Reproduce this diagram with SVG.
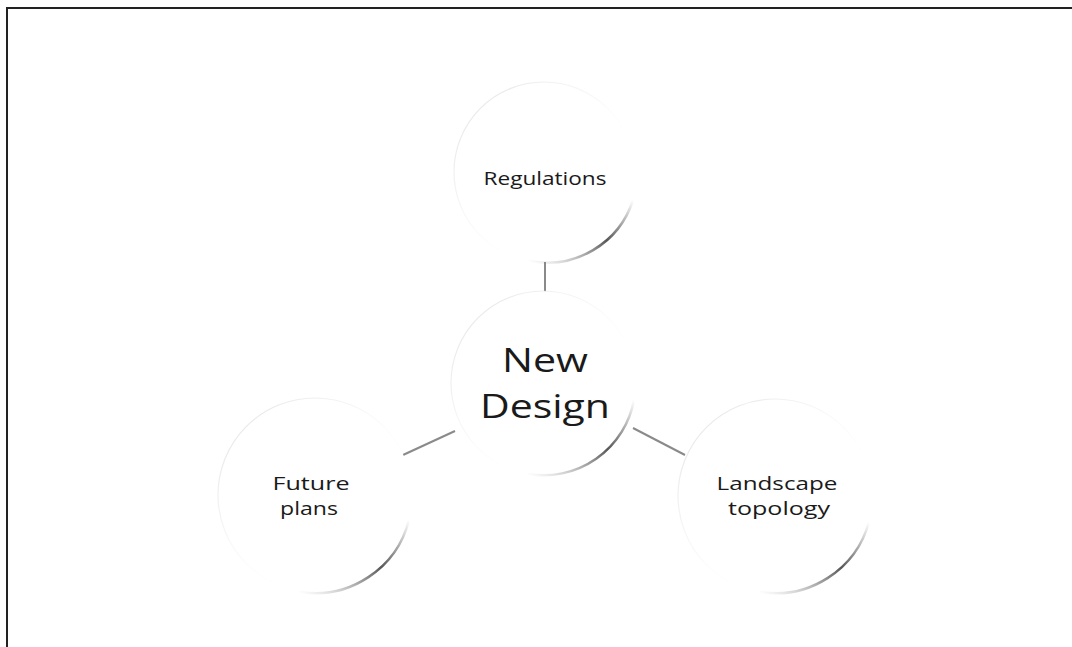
<svg xmlns="http://www.w3.org/2000/svg" width="1072" height="647" viewBox="0 0 1072 647">
<defs>
<linearGradient id="shade" x1="1" y1="0" x2="0" y2="1">
<stop offset="0" stop-color="#555" stop-opacity="0"/>
<stop offset="0.45" stop-color="#444" stop-opacity="0.9"/>
<stop offset="1" stop-color="#888" stop-opacity="0"/>
</linearGradient>
<linearGradient id="rim" x1="0" y1="0" x2="1" y2="1">
<stop offset="0" stop-color="#d0d0d0" stop-opacity="0.7"/>
<stop offset="0.45" stop-color="#ececec" stop-opacity="0.3"/>
<stop offset="0.7" stop-color="#fff" stop-opacity="0"/>
</linearGradient>
</defs>
<style>
.bubble{fill:#fff;stroke:url(#rim);stroke-width:1.2}
.shadow{fill:none;stroke:url(#shade);stroke-width:2.5;stroke-linecap:round}
.lbl{font-family:"Open Sans","Noto Sans",sans-serif;fill:#1a1a1a;text-anchor:middle}
.sm{font-size:19px;font-weight:500}
.big{font-size:32px}
.conn line{stroke:#8a8a8a;stroke-width:2}
</style>
<rect width="1072" height="647" fill="#fff"/>
<path d="M7,647 V8 H1072" fill="none" stroke="#222" stroke-width="2"/>
<g id="connectors" class="conn">
<line x1="545" y1="262" x2="545" y2="303"/>
<line x1="403" y1="455" x2="455" y2="431"/>
<line x1="633" y1="428" x2="685" y2="455"/>
</g>
<g id="node-regulations">
<circle class="bubble" cx="544" cy="172" r="90"/>
<path class="shadow" d="M633,200 A90,90 0 0 1 530,261"/>
<text class="lbl sm" x="545" y="185" textLength="123" lengthAdjust="spacingAndGlyphs">Regulations</text>
</g>
<g id="node-new-design">
<circle class="bubble" cx="543" cy="383" r="92"/>
<path class="shadow" d="M634,400 A92,92 0 0 1 528,474"/>
<text class="lbl big" x="545" y="372" textLength="86" lengthAdjust="spacingAndGlyphs">New</text>
<text class="lbl big" x="545" y="418" textLength="130" lengthAdjust="spacingAndGlyphs">Design</text>
</g>
<g id="node-future-plans">
<circle class="bubble" cx="315" cy="495" r="97"/>
<path class="shadow" d="M409,520 A97,97 0 0 1 300,592"/>
<text class="lbl sm" x="311" y="490" textLength="77" lengthAdjust="spacingAndGlyphs">Future</text>
<text class="lbl sm" x="309" y="515" textLength="58" lengthAdjust="spacingAndGlyphs">plans</text>
</g>
<g id="node-landscape-topology">
<circle class="bubble" cx="775" cy="496" r="97"/>
<path class="shadow" d="M869,522 A97,97 0 0 1 760,592"/>
<text class="lbl sm" x="777" y="490" textLength="121" lengthAdjust="spacingAndGlyphs">Landscape</text>
<text class="lbl sm" x="779" y="515" textLength="102" lengthAdjust="spacingAndGlyphs">topology</text>
</g>
</svg>
